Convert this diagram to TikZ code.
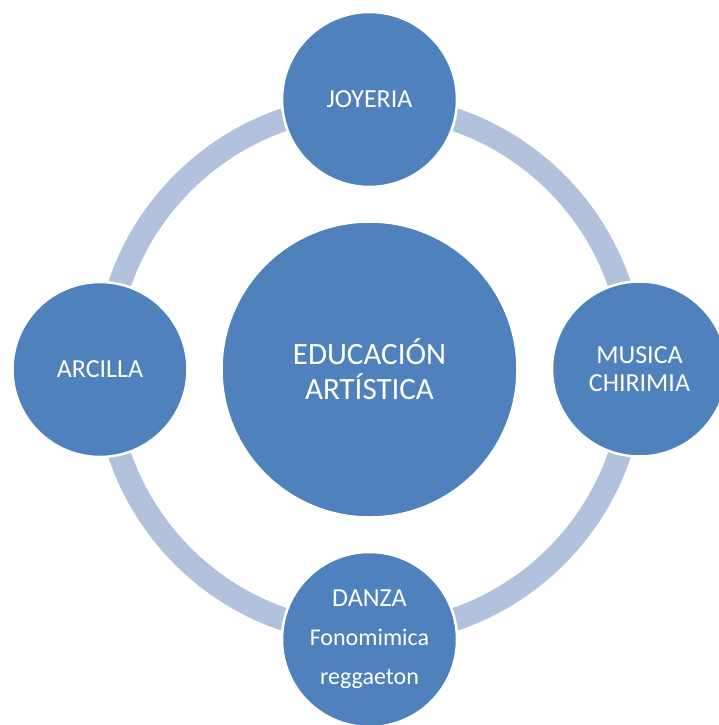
\documentclass[tikz,border=0pt]{standalone}
\usepackage{fontspec}
\setmainfont{Carlito}
\usepackage{tikz}

\definecolor{areablue}{RGB}{79,129,189}
\definecolor{ringblue}{RGB}{179,194,220}

\tikzset{
    area/.style={circle, fill=areablue, draw=white, line width=2.5pt,
        inner sep=0pt, text=white, align=center},
    sat/.style={area, minimum size=175pt,
        font=\fontsize{26}{28.5}\selectfont},
    ring/.style={draw=ringblue, line width=23pt}
}

\begin{document}
\begin{tikzpicture}[x=1pt,y=-1pt]
                \useasboundingbox (0,0) rectangle (718,725);
                \coordinate (ctr) at (369.5,369.5);
                % ring behind the circles
                \draw[ring] (ctr) circle[radius=264];
                \node[area, minimum size=296pt,
                    font=\fontsize{31}{35}\selectfont] (edu) at (ctr)
                    {EDUCACIÓN\\ARTÍSTICA};
                \node[sat] (joyeria) at (369.5,99.5) {JOYERIA};
                \node[sat] (musica) at (639.5,369) {MUSICA\\CHIRIMIA};
                \node[sat] (danza) at (369.5,639.5)
                    {DANZA\\[10.5pt]{\fontsize{24}{28.5}\selectfont Fonomimica}\\[10.5pt]{\fontsize{24}{28.5}\selectfont reggaeton}};
                \node[sat] (arcilla) at (100,369.5) {ARCILLA};
            \end{tikzpicture}
\end{document}
